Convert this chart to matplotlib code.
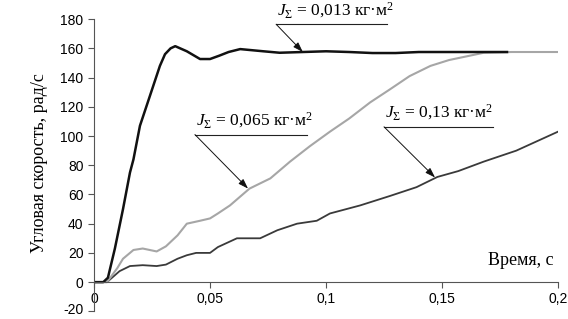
import matplotlib
matplotlib.use("Agg")
import matplotlib.pyplot as plt
import matplotlib.transforms as mtransforms

plt.rcParams['mathtext.fontset'] = 'custom'
plt.rcParams['mathtext.rm'] = 'Liberation Serif'
plt.rcParams['mathtext.it'] = 'Liberation Serif:italic'

# J = 0.013 kg*m^2 (black)
t1 = [0, 0.004, 0.006, 0.009, 0.0125, 0.0155, 0.017, 0.0198, 0.024, 0.0284, 0.0306, 0.033,
      0.035, 0.040, 0.0457, 0.05, 0.054, 0.058, 0.063, 0.073, 0.08, 0.09, 0.1, 0.11, 0.12,
      0.13, 0.14, 0.15, 0.16, 0.17, 0.178]
v1 = [0, 0, 3, 23, 50, 75, 84, 107, 127, 148, 156, 160, 161.5, 158, 152.7, 152.7, 155, 157.5,
      159.5, 158, 157, 157.5, 158, 157.5, 156.8, 156.8, 157.5, 157.5, 157.5, 157.5, 157.5]

# J = 0.065 kg*m^2 (light gray)
t2 = [0, 0.0056, 0.01, 0.0125, 0.017, 0.021, 0.027, 0.031, 0.036, 0.040, 0.0457, 0.05, 0.0534,
      0.0586, 0.067, 0.076, 0.0845, 0.093, 0.1017, 0.110, 0.119, 0.1276, 0.136, 0.145, 0.153,
      0.162, 0.168, 0.18, 0.19, 0.2]
v2 = [0, 0, 9.5, 16, 22, 23, 21, 24.5, 32, 40, 42, 43.6, 47, 52.5, 64, 71, 82.5, 93, 103, 112,
      123, 132, 141, 148, 152, 155, 157, 157.5, 157.5, 157.5]

# J = 0.13 kg*m^2 (dark gray)
t3 = [0, 0.0056, 0.011, 0.0155, 0.021, 0.027, 0.031, 0.036, 0.040, 0.044, 0.05, 0.0534, 0.0616,
      0.0716, 0.079, 0.0875, 0.096, 0.1017, 0.1147, 0.1276, 0.139, 0.148, 0.157, 0.168, 0.182, 0.2]
v3 = [0, 0, 7.5, 11, 11.6, 11, 12, 16, 18.4, 20, 20, 24, 30, 30, 35.5, 40, 42, 47, 52.5, 59, 65,
      72, 76, 82.5, 90, 103]

xticks = [0, 0.05, 0.1, 0.15, 0.2]
xticklabels = ["0", "0,05", "0,1", "0,15", "0,2"]
yticks = [-20, 0, 20, 40, 60, 80, 100, 120, 140, 160, 180]

labels = [r"$J_{\Sigma}$ = 0,013 кг·м$^2$",
          r"$J_{\Sigma}$ = 0,065 кг·м$^2$",
          r"$J_{\Sigma}$ = 0,13 кг·м$^2$"]
# (text x, text y, underline end x, arrow tip x, arrow tip y)
ann = [(0.0785, 176.5, 0.1263, 0.090, 157.5),
       (0.0435, 101.0, 0.0918, 0.0664, 64.0),
       (0.1250, 106.3, 0.1720, 0.147, 71.6)]

fig = plt.figure(figsize=(5.68, 3.19), dpi=100)
ax = fig.add_axes([0.1655, 0.024, 0.9825 - 0.1655, 0.94 - 0.024])

ax.plot(t3, v3, color='#3a3a3a', lw=1.3)
ax.plot(t2, v2, color='#a6a6a6', lw=1.5)
ax.plot(t1, v1, color='#111111', lw=1.8)

ax.set_xlim(0, 0.2)
ax.set_ylim(-20, 180)
ax.spines['top'].set_visible(False)
ax.spines['right'].set_visible(False)
ax.spines['bottom'].set_position(('data', 0))
ax.spines['left'].set_color('#555555')
ax.spines['bottom'].set_color('#555555')
ax.set_xticks(xticks)
ax.set_xticklabels(xticklabels, family='Liberation Sans', fontsize=10)
ax.set_yticks(yticks)
ax.set_yticklabels([str(v) for v in yticks], family='Liberation Sans', fontsize=10)
ax.tick_params(axis='both', direction='out', length=4, width=0.8, color='#555555')
ax.tick_params(axis='x', pad=3)
# lift the bottom-most y label slightly so it stays inside the figure
lbl = ax.get_yticklabels()[0]
lbl.set_transform(lbl.get_transform() + mtransforms.ScaledTranslation(0, 2 / 72, fig.dpi_scale_trans))

for lab, (tx, ty, ux, px, py) in zip(labels, ann):
    ax.plot([tx, ux], [ty, ty], color='#222222', lw=0.8, clip_on=False)
    ax.annotate('', xy=(px, py), xytext=(tx, ty),
                arrowprops=dict(arrowstyle='-|>,head_length=0.6,head_width=0.2',
                                color='#111111', lw=0.7, shrinkA=0, shrinkB=0),
                annotation_clip=False)
    ax.text(tx + 0.0005, ty + 3, lab, family='Liberation Serif', fontsize=12.5,
            ha='left', va='bottom', clip_on=False)

ax.text(0.198, 9, "Время, с", family='Liberation Serif', fontsize=13, ha='right', va='bottom')
fig.text(0.069, 0.49, "Угловая скорость, рад/с", family='Liberation Serif', fontsize=13,
         rotation=90, ha='center', va='center')

fig.savefig("out.png", dpi=100)
